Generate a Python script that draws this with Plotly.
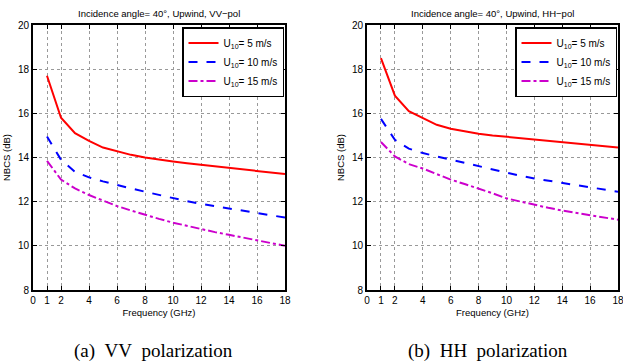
import plotly.graph_objects as go

freq = [1, 2, 3, 4, 5, 6, 7, 8, 9, 10, 11, 12, 13, 14, 15, 16, 17, 18]

vv_u5 = [17.7, 15.8, 15.1, 14.75, 14.45, 14.27, 14.12, 14.0, 13.9, 13.82, 13.74, 13.67, 13.6, 13.53, 13.46, 13.39, 13.32, 13.25]
vv_u10 = [14.95, 13.9, 13.35, 13.1, 12.92, 12.75, 12.6, 12.45, 12.3, 12.15, 12.02, 11.9, 11.8, 11.7, 11.6, 11.5, 11.4, 11.28]
vv_u15 = [13.85, 13.0, 12.6, 12.3, 12.05, 11.8, 11.6, 11.4, 11.22, 11.05, 10.9, 10.75, 10.62, 10.5, 10.38, 10.25, 10.12, 10.0]

hh_u5 = [18.5, 16.8, 16.1, 15.78, 15.48, 15.3, 15.18, 15.08, 15.0, 14.94, 14.88, 14.82, 14.76, 14.7, 14.64, 14.58, 14.52, 14.45]
hh_u10 = [15.75, 14.8, 14.4, 14.2, 14.05, 13.9, 13.75, 13.6, 13.45, 13.3, 13.17, 13.05, 12.95, 12.85, 12.75, 12.65, 12.55, 12.45]
hh_u15 = [14.7, 14.05, 13.7, 13.5, 13.25, 13.0, 12.8, 12.6, 12.38, 12.15, 12.0, 11.85, 11.72, 11.6, 11.5, 11.4, 11.3, 11.18]

x_ticks = [0, 1, 2, 4, 6, 8, 10, 12, 14, 16, 18]
y_ticks = [8, 10, 12, 14, 16, 18, 20]

labels = ["U<sub>10</sub>= 5 m/s", "U<sub>10</sub>= 10 m/s", "U<sub>10</sub>= 15 m/s"]
colors = ["#ff0000", "#0000ff", "#cc00cc"]
dashes = ["solid", "dash", "dashdot"]

fig = go.Figure()

for i, ys in enumerate([vv_u5, vv_u10, vv_u15]):
    fig.add_trace(go.Scatter(x=freq, y=ys, mode="lines", name=labels[i],
                             line=dict(color=colors[i], width=2, dash=dashes[i]),
                             xaxis="x", yaxis="y", legend="legend"))
for i, ys in enumerate([hh_u5, hh_u10, hh_u15]):
    fig.add_trace(go.Scatter(x=freq, y=ys, mode="lines", name=labels[i],
                             line=dict(color=colors[i], width=2, dash=dashes[i]),
                             xaxis="x2", yaxis="y2", legend="legend2"))

W, H = 623, 363
ydom = [(H - 290) / H, (H - 25) / H]
font = "Liberation Sans Narrow, Liberation Sans, Arial, sans-serif"
serif = "Liberation Serif, Times New Roman, serif"
gap = "\u00a0\u00a0"

axis_common = dict(showline=True, linecolor="black", linewidth=2, mirror="allticks",
                   ticks="inside", ticklen=4, tickcolor="black", automargin=False,
                   ticklabeloverflow="allow",
                   showgrid=True, gridcolor="#999999", griddash="dot", gridwidth=1,
                   zeroline=False, tickfont=dict(family=font, size=10, color="black"))

fig.update_layout(
    width=W, height=H,
    margin=dict(l=0, r=0, t=0, b=0, autoexpand=False),
    paper_bgcolor="white", plot_bgcolor="white",
    font=dict(family=font, size=10, color="black"),
    xaxis=dict(domain=[33 / W, 285 / W], range=[0, 18], tickvals=x_ticks, anchor="y",
               title=dict(text="Frequency (GHz)", font=dict(size=9.5), standoff=4), **axis_common),
    yaxis=dict(domain=ydom, range=[8, 20], tickvals=y_ticks, anchor="x",
               title=dict(text="NBCS (dB)", font=dict(size=9.5), standoff=6), **axis_common),
    xaxis2=dict(domain=[367 / W, 618 / W], range=[0, 18], tickvals=x_ticks, anchor="y2",
                title=dict(text="Frequency (GHz)", font=dict(size=9.5), standoff=4), **axis_common),
    yaxis2=dict(domain=ydom, range=[8, 20], tickvals=y_ticks, anchor="x2",
                title=dict(text="NBCS (dB)", font=dict(size=9.5), standoff=6), **axis_common),
    legend=dict(x=284 / W, y=(H - 27) / H, xanchor="right", yanchor="top",
                bordercolor="black", borderwidth=1.5, bgcolor="white",
                font=dict(family=font, size=10), tracegroupgap=0),
    legend2=dict(x=617 / W, y=(H - 27) / H, xanchor="right", yanchor="top",
                 bordercolor="black", borderwidth=1.5, bgcolor="white",
                 font=dict(family=font, size=10), tracegroupgap=0),
    annotations=[
        dict(text="Incidence angle= 40°, Upwind, VV\u2212pol", x=159 / W, y=(H - 13) / H,
             xref="paper", yref="paper", xanchor="center", yanchor="middle",
             showarrow=False, font=dict(family=font, size=9.5)),
        dict(text="Incidence angle= 40°, Upwind, HH\u2212pol", x=492 / W, y=(H - 13) / H,
             xref="paper", yref="paper", xanchor="center", yanchor="middle",
             showarrow=False, font=dict(family=font, size=9.5)),
        dict(text="(a)" + gap + "VV" + gap + "polarization", x=153 / W, y=(H - 351) / H,
             xref="paper", yref="paper", xanchor="center", yanchor="middle", showarrow=False,
             font=dict(family=serif, size=19)),
        dict(text="(b)" + gap + "HH" + gap + "polarization", x=488 / W, y=(H - 351) / H,
             xref="paper", yref="paper", xanchor="center", yanchor="middle", showarrow=False,
             font=dict(family=serif, size=19)),
    ],
)

fig.write_html("out.html", config={"displayModeBar": False},
               post_script="document.body.style.margin='0';document.body.style.overflow='hidden';")
